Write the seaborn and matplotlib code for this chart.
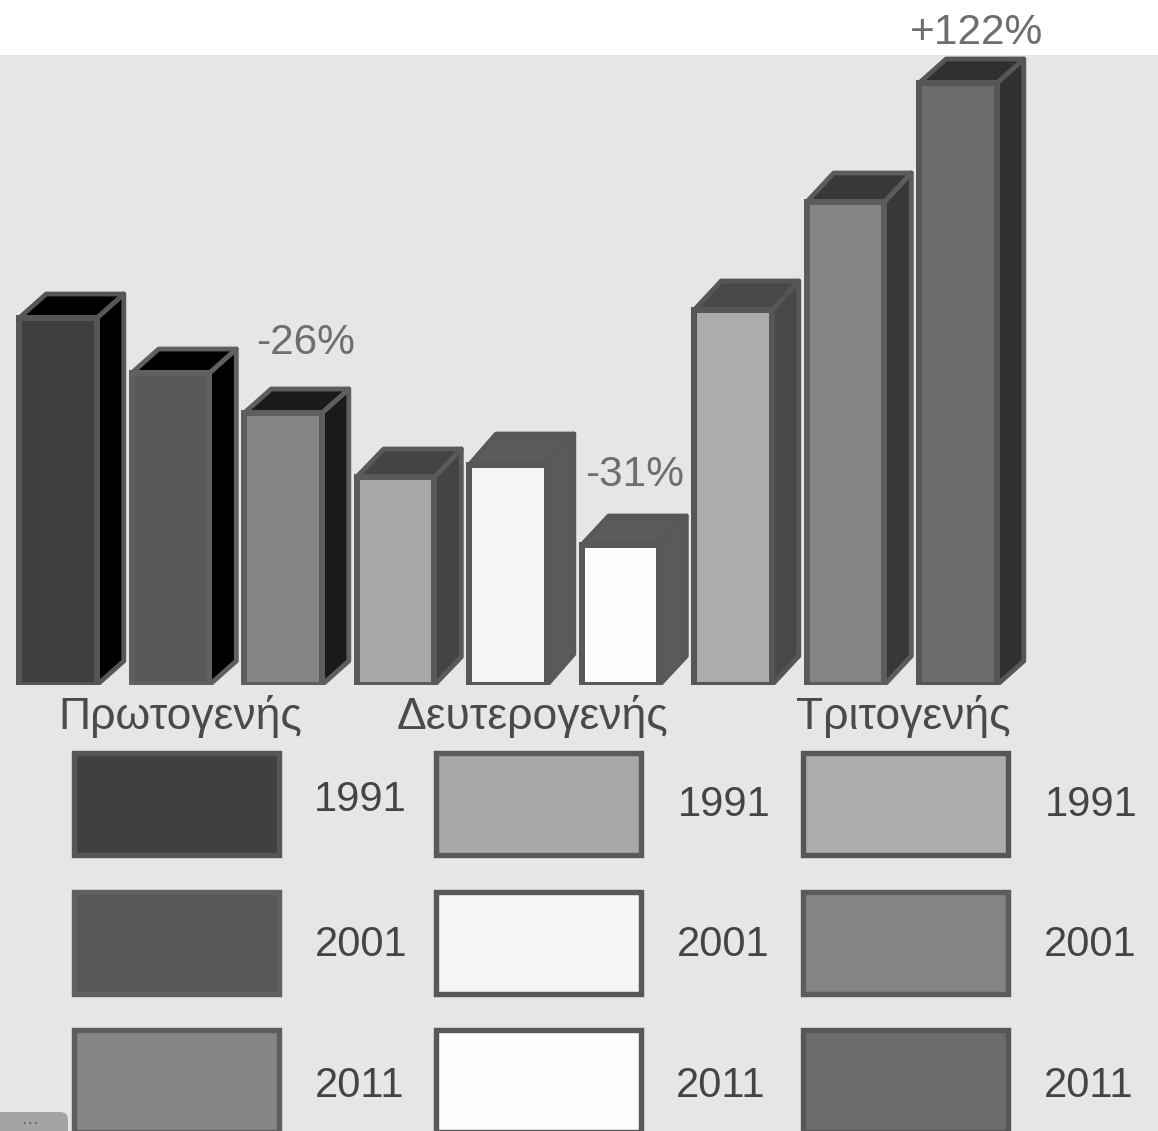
import matplotlib
matplotlib.use("Agg")
import matplotlib.pyplot as plt
from matplotlib.patches import Polygon, Rectangle, FancyBboxPatch
import pandas as pd
import seaborn as sns

sectors = ["Πρωτογενής", "Δευτερογενής", "Τριτογενής"]
years = ["1991", "2001", "2011"]
values = [367, 312, 272, 208, 220, 140, 375, 483, 602]
face_colors = ["#404040", "#585858", "#868686", "#a8a8a8", "#f5f5f5", "#fdfdfd", "#acacac", "#848484", "#6c6c6c"]
edge_colors = ["#565656", "#606060", "#5e5e5e", "#5a5a5a", "#585858", "#585858", "#565656", "#5c5c5c", "#565656"]
side_colors = ["#000000", "#000000", "#1a1a1a", "#444444", "#5a5a5a", "#5a5a5a", "#484848", "#383838", "#303030"]
depths = [24, 24, 24, 28, 31, 29, 29, 29, 24]
change_labels = ["-26%", "-31%", "+122%"]

W, H = 1158, 1131
sns.set_theme(style="white")
plt.rcParams["font.family"] = ["Liberation Sans", "DejaVu Sans"]

fig = plt.figure(figsize=(W / 100, H / 100), dpi=100, facecolor="white")
fig.add_artist(Rectangle((0, 0), 1, (H - 55) / H, transform=fig.transFigure, fc="#e6e6e6", ec="none", zorder=-5))

# main axes: y unit = one pixel above the baseline
base_px, top_px = 685, 55
ax = fig.add_axes([0, (H - base_px) / H, 1, (base_px - top_px) / H])
ax.patch.set_alpha(0)
labels = [f"{s} {y}" for s in sectors for y in years]
df = pd.DataFrame({"group": labels, "value": values})
sns.barplot(data=df, x="group", y="value", hue="group", order=labels, hue_order=labels,
            palette=face_colors, width=0.69, dodge=False, legend=False, saturation=1, ax=ax)
spacing = 112.5
ax.set_xlim(-58 / spacing, (W - 58) / spacing)
ax.set_ylim(0, base_px - top_px)
ax.axis("off")

depth_x = 27 / spacing
lw = 6 * 0.72
for patch, val, ec, sc, d in zip(ax.patches, values, edge_colors, side_colors, depths):
    x0 = patch.get_x()
    x1 = x0 + patch.get_width()
    patch.set_edgecolor(ec)
    patch.set_linewidth(lw)
    patch.set_zorder(4)
    side = [(x1, 0), (x1 + depth_x, d), (x1 + depth_x, val + d), (x1, val)]
    top = [(x0, val), (x0 + depth_x, val + d), (x1 + depth_x, val + d), (x1, val)]
    for pts in (side, top):
        ax.add_patch(Polygon(pts, closed=True, fc=sc, ec=ec, lw=lw * 0.8, joinstyle="round",
                             zorder=3, clip_on=True))

# lower panel and text, y unit = image pixel
ov = fig.add_axes([0, 0, 1, 1], zorder=10)
ov.set_xlim(0, W)
ov.set_ylim(H, 0)
ov.axis("off")
ov.patch.set_alpha(0)

for label, x, y in zip(change_labels, [306, 635, 977], [343, 475, 33]):
    ov.text(x, y, label, ha="center", va="center", fontsize=30.5, color="#6e6e6e")

for label, x in zip(sectors, [180, 533, 903]):
    ov.text(x, 717, label, ha="center", va="center", fontsize=32, color="#4a4a4a")

swatch_x = [74, 436, 803]
swatch_y = [753, 892, 1030]
year_x = [[360, 361, 360], [724, 723, 721], [1091, 1090, 1089]]
year_y = [[800, 945, 1086], [805, 945, 1086], [805, 945, 1086]]
for c in range(3):
    for r in range(3):
        i = c * 3 + r
        ov.add_patch(Rectangle((swatch_x[c], swatch_y[r]), 205, 102, fc=face_colors[i], ec=edge_colors[i], lw=lw * 0.9))
        ov.text(year_x[c][r], year_y[c][r], years[r], ha="center", va="center", fontsize=30, color="#444444")

# small grey remnant in the lower left corner of the source image
ov.add_patch(FancyBboxPatch((-10, 1112), 78, 30, boxstyle="round,pad=0,rounding_size=8", fc="#a4a4a4", ec="none"))
ov.text(30, 1124, "···", ha="center", va="center", fontsize=12, color="#555555")

fig.savefig("out.png", dpi=100)
